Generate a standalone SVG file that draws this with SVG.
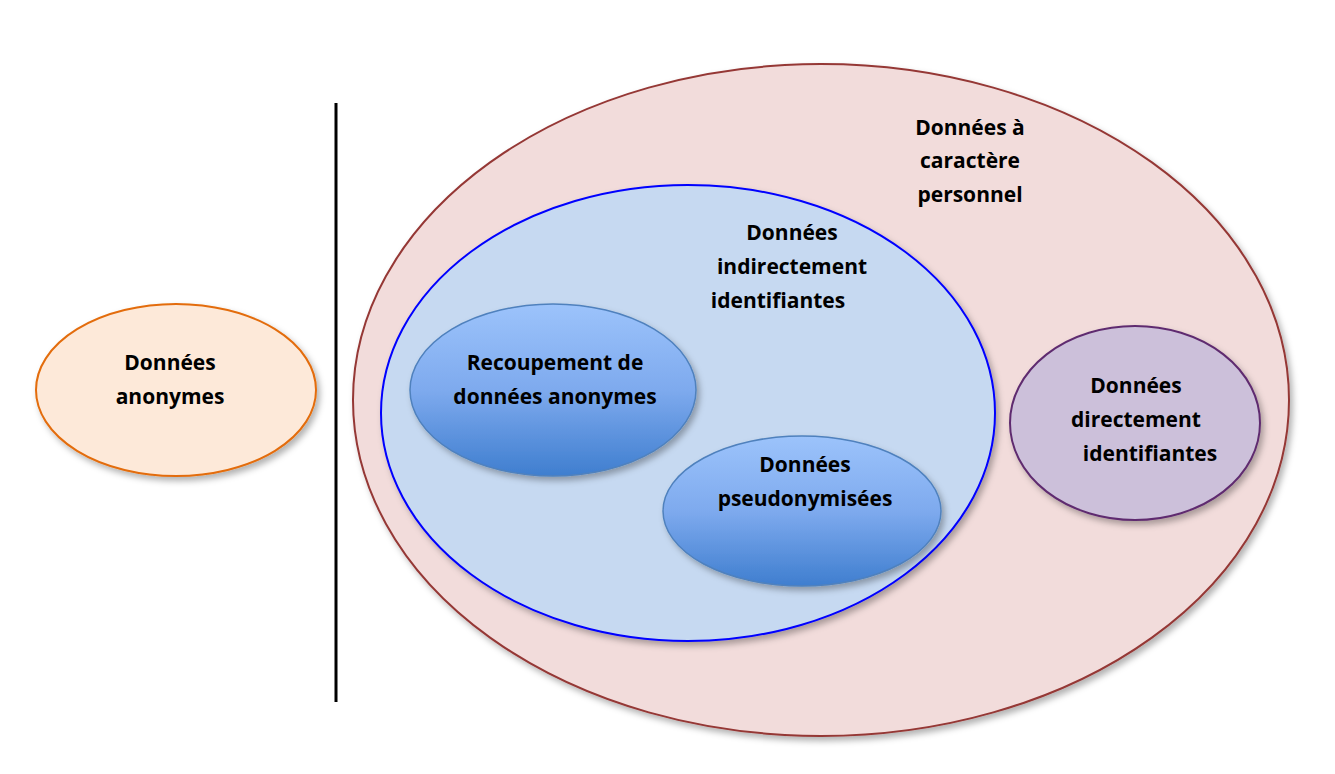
<svg xmlns="http://www.w3.org/2000/svg" width="1335" height="774" viewBox="0 0 1335 774">
<defs>
<linearGradient id="g" x1="0" y1="0" x2="0" y2="1">
<stop offset="0" stop-color="#9cc3fb"/><stop offset="0.5" stop-color="#7eaaee"/><stop offset="1" stop-color="#3f7ecf"/>
</linearGradient>
<filter id="sh" x="-10%" y="-10%" width="125%" height="125%"><feDropShadow dx="3" dy="4" stdDeviation="3" flood-color="#000" flood-opacity="0.3"/></filter>
</defs>
<style>
text{font-family:"Open Sans","Liberation Sans",sans-serif;font-weight:bold;font-size:21px;fill:#000;text-anchor:middle}
</style>
<rect width="1335" height="774" fill="#fff"/>
<g id="connectors"><line x1="336" y1="103" x2="336" y2="702" stroke="#000" stroke-width="3"/></g>
<g id="anonymes"><ellipse cx="176" cy="390" rx="140" ry="86" fill="#fde9d9" stroke="#e36c0a" stroke-width="2" filter="url(#sh)"/>
<text x="170" y="370">Données</text><text x="170" y="404">anonymes</text></g>
<g id="personnel"><ellipse cx="821" cy="400" rx="468" ry="336" fill="#f2dcdb" stroke="#953735" stroke-width="2" filter="url(#sh)"/>
<text x="970" y="135">Données à</text><text x="970" y="168">caractère</text><text x="970" y="202">personnel</text></g>
<g id="indirect"><ellipse cx="688" cy="413" rx="307" ry="228" fill="#c6d9f1" stroke="#0000ff" stroke-width="2" filter="url(#sh)"/>
<text x="792" y="240">Données</text><text x="792" y="274">indirectement</text><text x="778" y="308">identifiantes</text></g>
<g id="recoupement"><ellipse cx="553" cy="390" rx="143" ry="86" fill="url(#g)" stroke="#4f81bd" stroke-width="1.5" filter="url(#sh)"/>
<text x="555" y="370">Recoupement de</text><text x="555" y="404">données anonymes</text></g>
<g id="pseudo"><ellipse cx="802" cy="511" rx="139" ry="75" fill="url(#g)" stroke="#4f81bd" stroke-width="1.5" filter="url(#sh)"/>
<text x="805" y="472">Données</text><text x="805" y="506">pseudonymisées</text></g>
<g id="directement"><ellipse cx="1135" cy="423" rx="125" ry="97" fill="#ccc0da" stroke="#5f2c6f" stroke-width="2" filter="url(#sh)"/>
<text x="1136" y="393">Données</text><text x="1136" y="427">directement</text><text x="1150" y="461">identifiantes</text></g>
</svg>
